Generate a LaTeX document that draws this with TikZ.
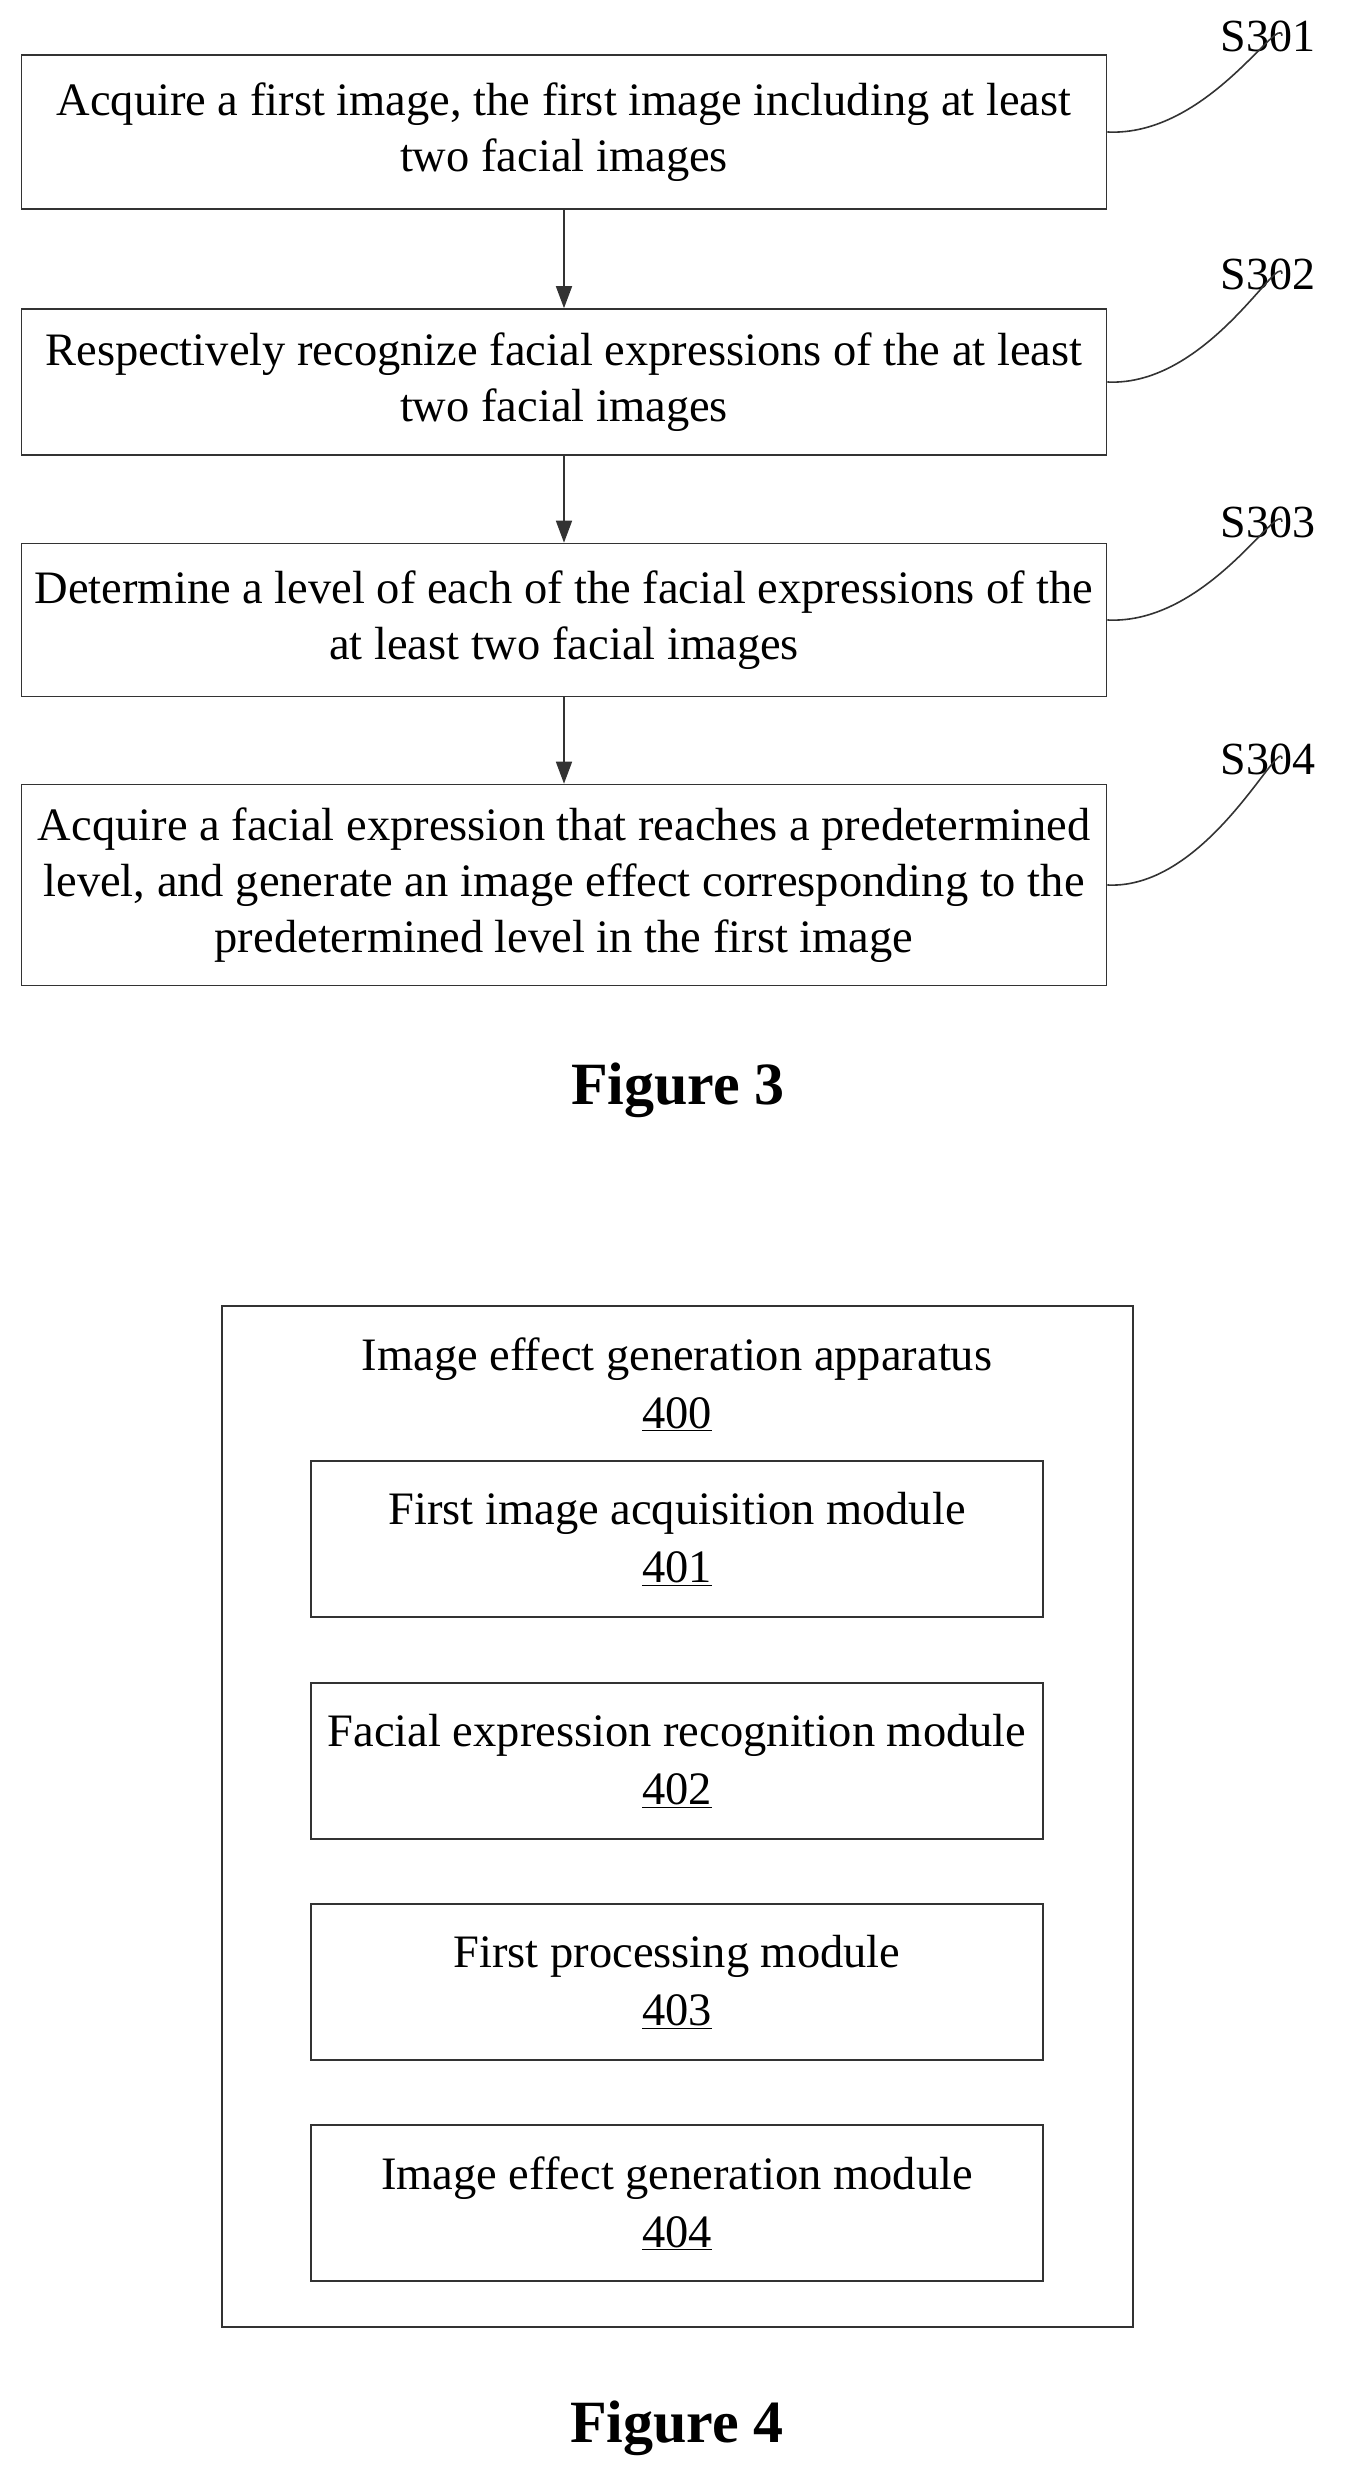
\documentclass[tikz,border=0pt]{standalone}
\usepackage{fontspec}
\setmainfont{Liberation Serif}
\usetikzlibrary{arrows.meta}
\begin{document}
\begin{tikzpicture}[x=1pt,y=-1pt,
  stepbox/.style={draw=black!80,line width=1.6pt,minimum width=1085pt,align=center,font=\fontsize{46.5}{56}\selectfont,inner sep=0pt},
  mod/.style={draw=black!80,line width=1.6pt,minimum width=732pt,minimum height=156pt,align=center,font=\fontsize{46.5}{58}\selectfont,inner sep=0pt},
  lab/.style={font=\fontsize{46}{50}\selectfont,inner sep=0pt},
  arr/.style={-{Triangle[width=16pt,length=22pt]},line width=1.6pt,draw=black!80},
  conn/.style={line width=1.6pt,draw=black!80},
  figcap/.style={font=\bfseries\fontsize{60}{70}\selectfont}]
\useasboundingbox (0,0) rectangle (1355,2486);
\node[stepbox,minimum height=154pt] (b1) at (564,132) {Acquire a first image, the first image including at least\\two facial images};
\node[stepbox,minimum height=146pt] (b2) at (564,382) {Respectively recognize facial expressions of the at least\\two facial images};
\node[stepbox,minimum height=153pt] (b3) at (564,620) {Determine a level of each of the facial expressions of the\\at least two facial images};
\node[stepbox,minimum height=201pt] (b4) at (564,885) {Acquire a facial expression that reaches a predetermined\\level, and generate an image effect corresponding to the\\predetermined level in the first image};
\draw[arr] (b1) -- (b2);
\draw[arr] (b2) -- (b3);
\draw[arr] (b3) -- (b4);
\node[lab] (s1) at (1268,36) {S301};
\node[lab] (s2) at (1268,274) {S302};
\node[lab] (s3) at (1268,522) {S303};
\node[lab] (s4) at (1268,759) {S304};
\foreach \b/\s in {b1/s1,b2/s2,b3/s3,b4/s4}{
  \draw[conn] (\b.east) .. controls ([xshift=100pt,yshift=-5pt]\b.east) and ([xshift=12pt,yshift=40pt]\s.south) .. ([xshift=14pt,yshift=16pt]\s.south);
}
\node[figcap] (f3) at (678,1090) {Figure 3};
\node[draw=black!80,line width=1.6pt,minimum width=911pt,minimum height=1021pt,inner sep=0pt] (outer) at (677.5,1816.5) {};
\node[font=\fontsize{46.5}{58}\selectfont,align=center] (t400) at (677,1384) {Image effect generation apparatus\\\underline{400}};
\node[mod] (m1) at (677,1539) {First image acquisition module\\\underline{401}};
\node[mod] (m2) at (677,1761) {Facial expression recognition module\\\underline{402}};
\node[mod] (m3) at (677,1982) {First processing module\\\underline{403}};
\node[mod] (m4) at (677,2203) {Image effect generation module\\\underline{404}};
\node[figcap] (f4) at (677,2428) {Figure 4};
\end{tikzpicture}
\end{document}
